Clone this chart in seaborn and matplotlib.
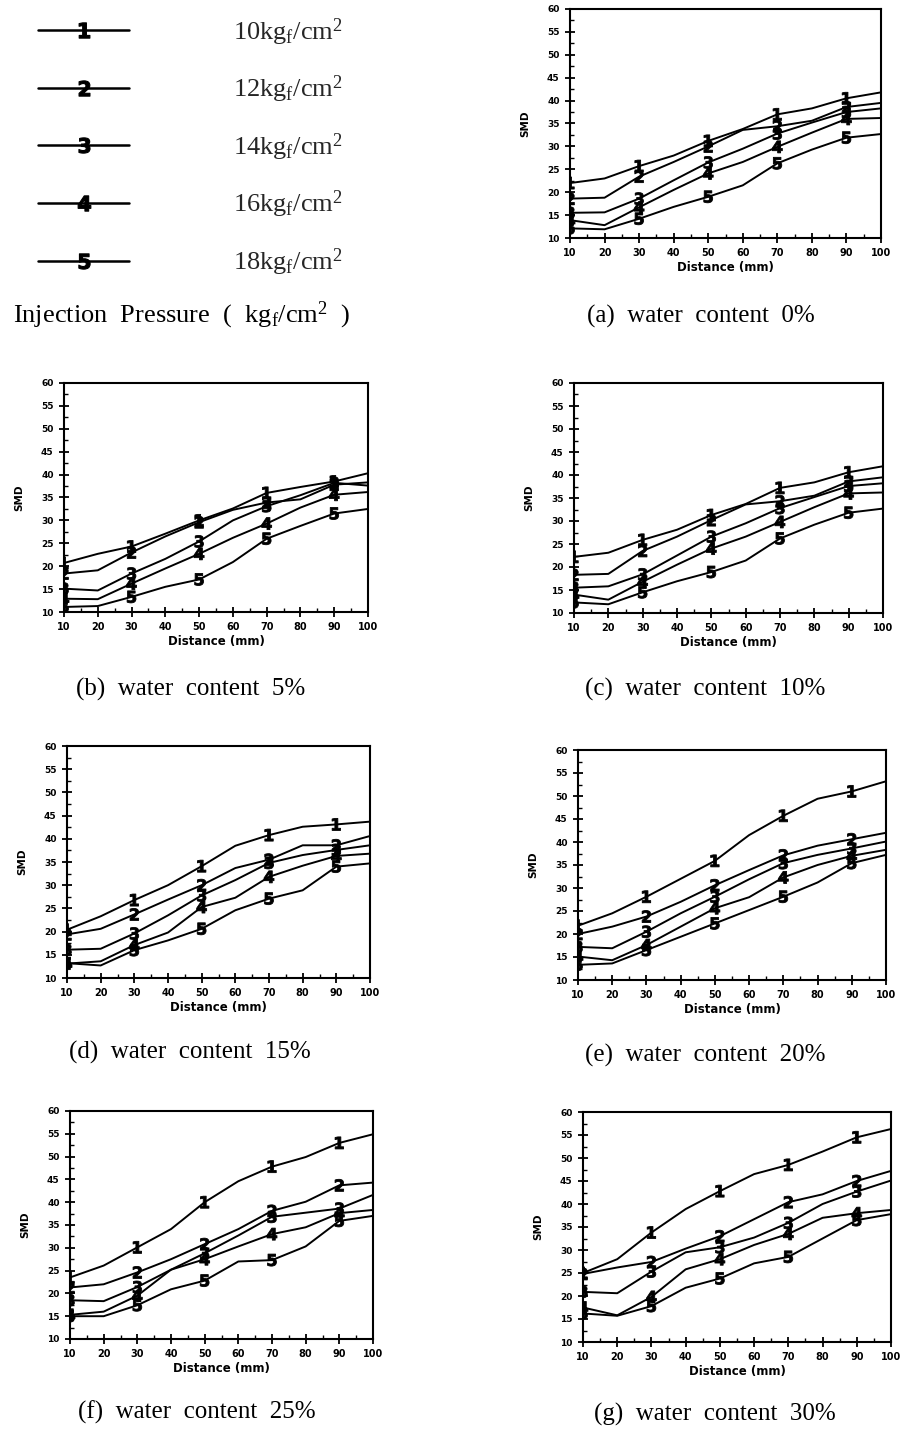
import numpy as np
import pandas as pd
import matplotlib
matplotlib.use("Agg")
import matplotlib.pyplot as plt
import seaborn as sns
from matplotlib.lines import Line2D

# ---------------- data ----------------
distance = [10, 20, 30, 40, 50, 60, 70, 80, 90, 100]
marked_distances = [10, 30, 50, 70, 90]
pressures = ["10", "12", "14", "16", "18"]
marker_digits = ["1", "2", "3", "4", "5"]
y_ticks = [10, 15, 20, 25, 30, 35, 40, 45, 50, 55, 60]

# SMD series, one row per injection pressure (10,12,14,16,18 kgf/cm2)
wc0 = [
    [22.0, 23.0, 25.7, 28.0, 31.2, 33.8, 37.0, 38.3, 40.5, 41.8],
    [18.6, 18.8, 23.4, 26.6, 30.0, 33.6, 34.4, 35.6, 38.6, 39.5],
    [15.5, 15.6, 18.6, 22.6, 26.5, 29.5, 32.8, 35.2, 37.5, 38.3],
    [13.9, 12.8, 16.7, 20.5, 24.1, 26.6, 29.9, 33.0, 36.0, 36.2],
    [12.1, 11.9, 14.2, 16.8, 19.0, 21.5, 26.3, 29.3, 31.9, 32.7],
]
wc5 = [
    [20.7, 22.7, 24.3, 27.1, 30.0, 32.6, 36.0, 37.3, 38.5, 40.3],
    [18.4, 19.1, 23.0, 26.5, 29.6, 32.3, 33.9, 34.6, 37.8, 38.3],
    [15.1, 14.7, 18.4, 21.6, 25.4, 30.0, 33.1, 35.5, 38.2, 37.6],
    [12.9, 12.8, 16.2, 19.5, 22.7, 26.2, 29.3, 32.8, 35.6, 36.2],
    [11.1, 11.3, 13.3, 15.5, 17.1, 20.9, 26.0, 28.8, 31.5, 32.5],
]
wc10 = [
    [22.2, 23.1, 25.9, 28.1, 31.3, 33.7, 37.2, 38.4, 40.6, 41.9],
    [18.3, 18.5, 23.5, 26.6, 30.2, 33.6, 34.3, 35.5, 38.6, 39.5],
    [15.5, 15.8, 18.4, 22.5, 26.6, 29.5, 32.8, 35.2, 37.6, 38.2],
    [14.0, 12.9, 16.8, 20.5, 24.0, 26.6, 29.8, 33.0, 36.0, 36.2],
    [12.3, 11.9, 14.5, 16.9, 18.9, 21.4, 26.2, 29.2, 31.8, 32.7],
]
wc15 = [
    [20.4, 23.3, 26.8, 30.0, 34.1, 38.5, 40.8, 42.6, 43.1, 43.7],
    [19.4, 20.6, 23.7, 26.9, 30.0, 33.7, 35.5, 38.6, 38.6, 40.6],
    [16.1, 16.3, 19.6, 23.5, 27.8, 31.1, 34.8, 36.5, 37.6, 38.6],
    [13.1, 13.6, 17.1, 19.8, 25.3, 27.3, 31.8, 34.2, 36.3, 36.8],
    [13.2, 12.7, 16.0, 18.1, 20.6, 24.6, 27.1, 28.9, 34.0, 34.7],
]
wc20 = [
    [21.8, 24.5, 28.1, 32.0, 35.9, 41.5, 45.7, 49.4, 51.0, 53.2],
    [20.0, 21.6, 23.8, 27.0, 30.6, 33.9, 37.1, 39.2, 40.6, 42.0],
    [17.2, 16.9, 20.5, 24.5, 28.1, 31.9, 35.4, 37.2, 38.6, 40.1],
    [15.1, 14.3, 17.6, 21.6, 25.6, 28.0, 32.3, 35.0, 37.0, 38.3],
    [13.3, 13.6, 16.5, 19.4, 22.3, 25.2, 28.1, 31.2, 35.4, 37.2],
]
wc25 = [
    [23.5, 26.1, 30.1, 34.1, 40.0, 44.6, 47.8, 49.9, 53.0, 54.9],
    [21.3, 22.0, 24.6, 27.5, 30.8, 34.1, 38.1, 40.1, 43.7, 44.3],
    [18.5, 18.3, 21.4, 25.2, 28.8, 32.7, 36.8, 37.7, 38.6, 41.6],
    [15.3, 16.0, 19.5, 25.2, 27.5, 30.3, 33.0, 34.5, 37.6, 38.3],
    [15.0, 15.0, 17.4, 20.9, 22.8, 27.0, 27.3, 30.3, 35.9, 37.0],
]
wc30 = [
    [25.0, 28.0, 33.8, 38.9, 42.8, 46.5, 48.5, 51.4, 54.5, 56.3],
    [24.8, 26.2, 27.4, 30.3, 33.0, 36.7, 40.4, 42.1, 45.0, 47.2],
    [20.9, 20.6, 25.3, 29.5, 30.6, 32.7, 35.9, 40.0, 42.7, 45.1],
    [17.5, 15.8, 19.8, 25.8, 28.0, 31.1, 33.5, 37.0, 38.0, 38.7],
    [16.2, 15.7, 17.8, 21.8, 23.8, 27.1, 28.5, 32.5, 36.5, 37.8],
]
captions = [
    "(a)  water  content  0%",
    "(b)  water  content  5%",
    "(c)  water  content  10%",
    "(d)  water  content  15%",
    "(e)  water  content  20%",
    "(f)  water  content  25%",
    "(g)  water  content  30%",
]
legend_labels = [r"10kg$_\mathrm{f}$/cm$^\mathrm{2}$", r"12kg$_\mathrm{f}$/cm$^\mathrm{2}$",
                 r"14kg$_\mathrm{f}$/cm$^\mathrm{2}$", r"16kg$_\mathrm{f}$/cm$^\mathrm{2}$",
                 r"18kg$_\mathrm{f}$/cm$^\mathrm{2}$"]
legend_title = r"Injection  Pressure  (  kg$_\mathrm{f}$/cm$^\mathrm{2}$  )"

# ---------------- layout (pixels) ----------------
W, H = 907, 1433
sns.set_theme(style="white")
plt.rcParams["font.family"] = ["DejaVu Sans"]
plt.rcParams["mathtext.fontset"] = "custom"
plt.rcParams["mathtext.rm"] = "Liberation Serif"
plt.rcParams["mathtext.it"] = "Liberation Serif:italic"
plt.rcParams["mathtext.bf"] = "DejaVu Sans:bold"

fig = plt.figure(figsize=(W / 100, H / 100), dpi=100)
fig.patch.set_facecolor("white")


def frac(l, t, r, b):
    return [l / W, 1 - b / H, (r - l) / W, (b - t) / H]


panels = [
    (wc0, (570, 9, 881, 238), (701, 316)),
    (wc5, (64, 383, 368, 612), (191, 689)),
    (wc10, (574, 383, 883, 613), (705, 689)),
    (wc15, (67, 746, 370, 978), (190, 1052)),
    (wc20, (578, 750, 886, 980), (705, 1055)),
    (wc25, (70, 1111, 373, 1339), (197, 1412)),
    (wc30, (583, 1112, 891, 1342), (715, 1414)),
]
marker_map = {p: r"$\mathbf{%s}$" % d for p, d in zip(pressures, marker_digits)}
serif = ["Liberation Serif", "DejaVu Serif"]

for (data, box, cap_xy), cap in zip(panels, captions):
    ax = fig.add_axes(frac(*box))
    df = pd.DataFrame({
        "Distance": np.tile(distance, len(pressures)),
        "SMD": np.concatenate([np.asarray(s, float) for s in data]),
        "Pressure": np.repeat(pressures, len(distance)),
    })
    sns.lineplot(data=df, x="Distance", y="SMD", hue="Pressure",
                 palette=["black"] * len(pressures), legend=False,
                 errorbar=None, lw=1.4, ax=ax)
    sub = df[df["Distance"].isin(marked_distances)]
    sns.scatterplot(data=sub, x="Distance", y="SMD", style="Pressure",
                    markers=marker_map, color="black", edgecolor="black",
                    linewidth=0.6, s=75, legend=False, ax=ax, zorder=3)
    ax.set_xlim(10, 100)
    ax.set_ylim(10, 60)
    ax.set_xticks(distance, [str(v) for v in distance],
                  fontweight="bold", fontsize=7)
    ax.set_yticks(y_ticks, [str(v) for v in y_ticks],
                  fontweight="bold", fontsize=6.5)
    ax.set_xticks(np.arange(15, 100, 10), minor=True)
    ax.set_yticks(np.arange(12.5, 60, 5), minor=True)
    ax.tick_params(which="major", direction="inout", length=7, width=1.3,
                   color="black", pad=4, labelcolor="black")
    ax.tick_params(which="minor", direction="in", length=3, width=1.0,
                   color="black")
    ax.tick_params(axis="both", which="both", bottom=True, left=True)
    for sp in ax.spines.values():
        sp.set_color("black")
        sp.set_linewidth(1.5)
    ax.set_xlabel("Distance (mm)", fontweight="bold", fontsize=8.5,
                  labelpad=2, color="black")
    ax.set_ylabel("SMD", fontweight="bold", fontsize=7.5, labelpad=12,
                  color="black")
    ax.set_facecolor("white")
    fig.text(cap_xy[0] / W, 1 - cap_xy[1] / H, cap, ha="center",
             va="center", family=serif, fontsize=18, color="black")

# ---------------- legend panel ----------------
handles = [Line2D([], [], color="black", lw=1.8,
                  marker=r"$\mathbf{%s}$" % d, markersize=11,
                  markeredgewidth=0.8)
           for d in marker_digits]
fig.legend(handles, legend_labels, loc="upper left",
           bbox_to_anchor=(38 / W, 1 - 16 / H), frameon=False,
           prop={"family": serif, "size": 19}, handlelength=3.45,
           handletextpad=3.95, labelspacing=0.99, borderpad=0,
           borderaxespad=0, numpoints=1)
fig.text(13 / W, 1 - 315 / H, legend_title, ha="left", va="center",
         family=serif, fontsize=19, color="black")

fig.savefig("out.png", dpi=100, facecolor="white")
